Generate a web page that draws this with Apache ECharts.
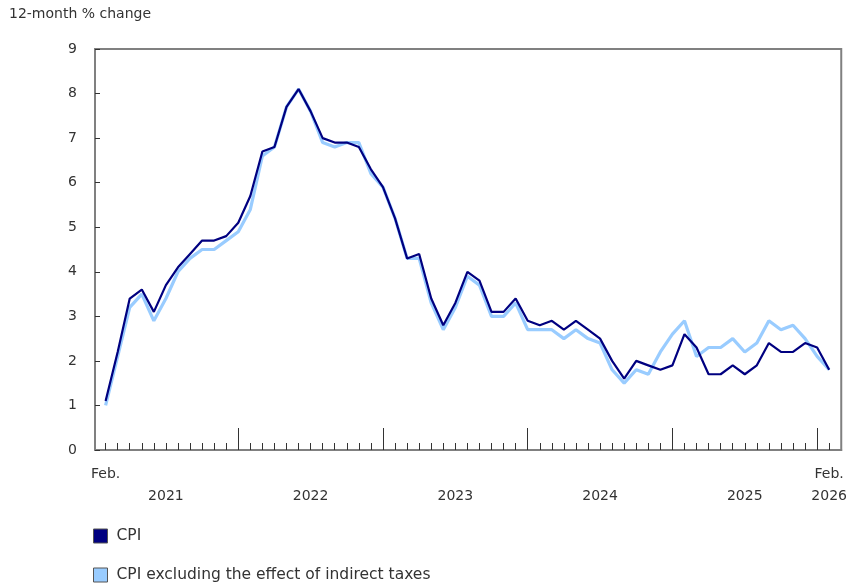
<!DOCTYPE html>
<html>
<head>
<meta charset="utf-8">
<script src="https://cdn.jsdelivr.net/npm/echarts@6/dist/echarts.min.js"></script>
<style>
html,body{margin:0;padding:0;background:#fff;}
#chart{width:850px;height:584px;}
</style>
</head>
<body>
<div id="chart"></div>
<script>
// Months Feb 2021 .. Feb 2026
var months = [
  '2021-02','2021-03','2021-04','2021-05','2021-06','2021-07','2021-08','2021-09','2021-10','2021-11','2021-12',
  '2022-01','2022-02','2022-03','2022-04','2022-05','2022-06','2022-07','2022-08','2022-09','2022-10','2022-11','2022-12',
  '2023-01','2023-02','2023-03','2023-04','2023-05','2023-06','2023-07','2023-08','2023-09','2023-10','2023-11','2023-12',
  '2024-01','2024-02','2024-03','2024-04','2024-05','2024-06','2024-07','2024-08','2024-09','2024-10','2024-11','2024-12',
  '2025-01','2025-02','2025-03','2025-04','2025-05','2025-06','2025-07','2025-08','2025-09','2025-10','2025-11','2025-12',
  '2026-01','2026-02'
];
var cpi = [
  1.1,2.2,3.4,3.6,3.1,3.7,4.1,4.4,4.7,4.7,4.8,
  5.1,5.7,6.7,6.8,7.7,8.1,7.6,7.0,6.9,6.9,6.8,6.3,
  5.9,5.2,4.3,4.4,3.4,2.8,3.3,4.0,3.8,3.1,3.1,3.4,
  2.9,2.8,2.9,2.7,2.9,2.7,2.5,2.0,1.6,2.0,1.9,1.8,
  1.9,2.6,2.3,1.7,1.7,1.9,1.7,1.9,2.4,2.2,2.2,2.4,
  2.3,1.8
];
var cpiExTax = [
  1.0,2.1,3.2,3.5,2.9,3.4,4.0,4.3,4.5,4.5,4.7,
  4.9,5.4,6.6,6.8,7.7,8.1,7.6,6.9,6.8,6.9,6.9,6.2,
  5.9,5.2,4.3,4.3,3.3,2.7,3.2,3.9,3.7,3.0,3.0,3.3,
  2.7,2.7,2.7,2.5,2.7,2.5,2.4,1.8,1.5,1.8,1.7,2.2,
  2.6,2.9,2.1,2.3,2.3,2.5,2.2,2.4,2.9,2.7,2.8,2.5,
  2.1,1.8
];
var seriesNames = ['CPI', 'CPI excluding the effect of indirect taxes'];
var yTitle = '12-month % change';
// x positions (1 = Feb 2021) for labels and major (January) ticks
var xLabelPositions = [1, 6, 18, 30, 42, 54, 61];
var xLabelTexts = ['Feb.', '\n2021', '\n2022', '\n2023', '\n2024', '\n2025', 'Feb.\n2026'];
var majorTickPositions = [12, 24, 36, 48, 60];

var minorTickPositions = months.map(function (m, i) { return i + 1; });
function toPairs(arr) { return arr.map(function (v, i) { return [i + 1, v]; }); }

var FONT = 'DejaVu Sans';
var TXT = '#333333';
var chart = echarts.init(document.getElementById('chart'), null, {renderer: 'canvas'});
chart.setOption({
  animation: false,
  backgroundColor: '#ffffff',
  title: {
    text: yTitle, left: 9, top: 7, padding: 0,
    textStyle: {fontFamily: FONT, fontSize: 14, fontWeight: 'normal', color: TXT}
  },
  legend: {
    orient: 'vertical', left: 93, top: 528, height: 80, padding: 0, itemGap: 23,
    itemWidth: 14, itemHeight: 14, icon: 'rect',
    data: seriesNames,
    textStyle: {fontFamily: FONT, fontSize: 15.5, color: TXT, lineHeight: 16, padding: [0, 0, 0, 4]},
    itemStyle: {borderColor: '#555555', borderWidth: 1}
  },
  grid: {left: 95, right: 7, top: 49, bottom: 134, show: true, borderColor: '#808080', borderWidth: 2, backgroundColor: 'transparent'},
  xAxis: [{
    type: 'value', min: 0.12, max: 62, position: 'bottom',
    axisLine: {show: true, lineStyle: {color: '#808080', width: 2}},
    axisTick: {show: true, inside: true, length: 7, customValues: minorTickPositions, lineStyle: {color: '#333333', width: 1}},
    axisLabel: {
      show: true, customValues: xLabelPositions, margin: 13,
      fontFamily: FONT, fontSize: 14, color: TXT, lineHeight: 22,
      formatter: function (v) { var k = xLabelPositions.indexOf(Math.round(v)); return k >= 0 ? xLabelTexts[k] : ''; }
    },
    splitLine: {show: false}
  }, {
    type: 'value', min: 0.12, max: 62, position: 'bottom',
    axisLine: {show: false},
    axisTick: {show: true, inside: true, length: 22, customValues: majorTickPositions, lineStyle: {color: '#333333', width: 1}},
    axisLabel: {show: false},
    splitLine: {show: false}
  }],
  yAxis: {
    type: 'value', min: 0, max: 9, interval: 1,
    axisLine: {show: true, lineStyle: {color: '#808080', width: 2}},
    axisTick: {show: true, inside: true, length: 5, lineStyle: {color: '#333333', width: 1}},
    axisLabel: {margin: 18, fontFamily: FONT, fontSize: 14, color: TXT},
    splitLine: {show: false}
  },
  series: [{
    name: seriesNames[1], type: 'line', xAxisIndex: 0, data: toPairs(cpiExTax),
    showSymbol: false, symbol: 'none', color: '#99CCFF',
    lineStyle: {color: '#99CCFF', width: 3.2}, z: 2
  }, {
    name: seriesNames[0], type: 'line', xAxisIndex: 0, data: toPairs(cpi),
    showSymbol: false, symbol: 'none', color: '#000080',
    lineStyle: {color: '#000080', width: 2.2}, z: 3
  }]
});
</script>
</body>
</html>
